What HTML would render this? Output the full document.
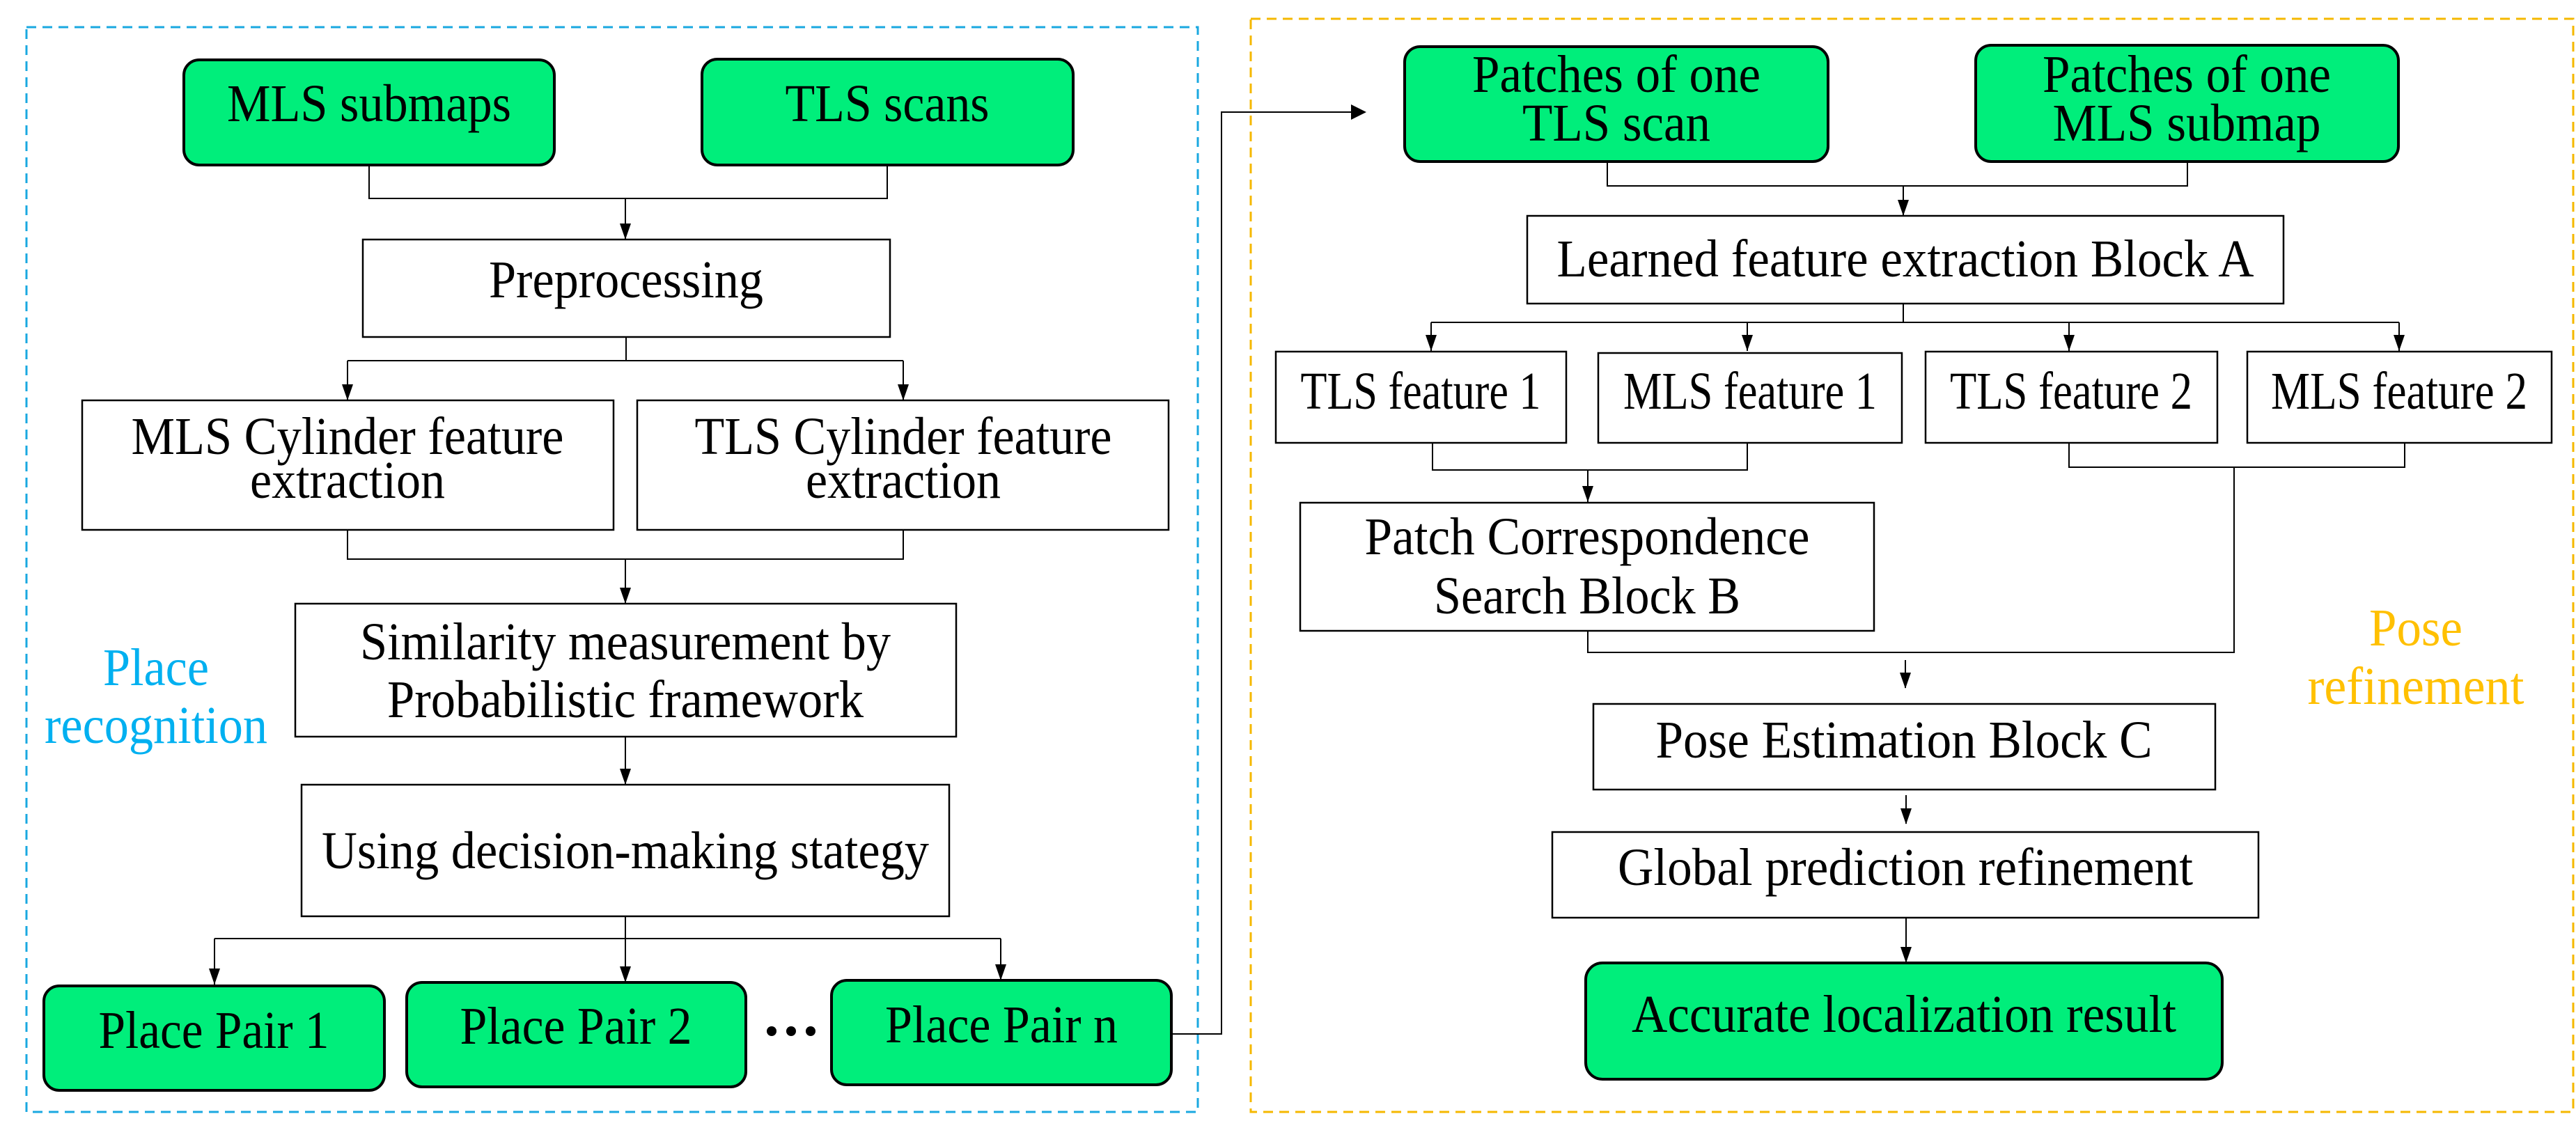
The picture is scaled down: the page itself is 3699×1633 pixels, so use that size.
<!DOCTYPE html>
<html><head><meta charset="utf-8"><style>html,body{margin:0;padding:0;background:#fff}svg{display:block}</style></head>
<body>
<svg width="3699" height="1633" viewBox="0 0 3699 1633" xmlns="http://www.w3.org/2000/svg">
<style>
text{font-family:"Liberation Serif",serif;font-size:76px;fill:#000;text-anchor:middle}
.b{fill:#fff;stroke:#000;stroke-width:2.5}
.g{fill:#00ee7b;stroke:#000;stroke-width:4}
.l{fill:none;stroke:#000;stroke-width:2}
</style>
<rect x="38" y="39" width="1682" height="1558" fill="none" stroke="#1aa8e0" stroke-width="3" stroke-dasharray="14 9"/>
<rect x="1796" y="27" width="1899" height="1570" fill="none" stroke="#f5b800" stroke-width="3" stroke-dasharray="14 9"/>

<rect class="g" x="264" y="86" width="532" height="151" rx="22"/>
<text x="530" y="174" textLength="408" lengthAdjust="spacingAndGlyphs">MLS submaps</text>
<rect class="g" x="1008" y="85" width="533" height="152" rx="22"/>
<text x="1274" y="174" textLength="293" lengthAdjust="spacingAndGlyphs">TLS scans</text>
<path class="l" d="M530,237 V285 H1274 V237 M898,285 V343" />
<path d="M890,321 L906,321 L898,344 z"/>
<rect class="b" x="521" y="344" width="757" height="140"/>
<text x="899" y="427" textLength="394" lengthAdjust="spacingAndGlyphs">Preprocessing</text>
<path class="l" d="M899,484 V518 M499,518 H1297 M499,518 V575 M1297,518 V575"/>
<path d="M491,552 L507,552 L499,575 z"/><path d="M1289,552 L1305,552 L1297,575 z"/>
<rect class="b" x="118" y="575" width="763" height="186"/>
<text x="499" y="652" textLength="621" lengthAdjust="spacingAndGlyphs">MLS Cylinder feature</text>
<text x="499" y="715" textLength="280" lengthAdjust="spacingAndGlyphs">extraction</text>
<rect class="b" x="915" y="575" width="763" height="186"/>
<text x="1297" y="652" textLength="599" lengthAdjust="spacingAndGlyphs">TLS Cylinder feature</text>
<text x="1297" y="715" textLength="280" lengthAdjust="spacingAndGlyphs">extraction</text>
<path class="l" d="M499,761 V803 H1297 V761 M898,803 V866"/>
<path d="M890,844 L906,844 L898,867 z"/>
<rect class="b" x="424" y="867" width="949" height="191"/>
<text x="898" y="947" textLength="762" lengthAdjust="spacingAndGlyphs">Similarity measurement by</text>
<text x="898" y="1030" textLength="684" lengthAdjust="spacingAndGlyphs">Probabilistic framework</text>
<path class="l" d="M898,1058 V1127"/>
<path d="M890,1104 L906,1104 L898,1127 z"/>
<rect class="b" x="433" y="1127" width="930" height="189"/>
<text x="898" y="1247" textLength="872" lengthAdjust="spacingAndGlyphs">Using decision-making stategy</text>
<path class="l" d="M898,1316 V1411 M308,1348 H1437 M308,1348 V1414 M1437,1348 V1408"/>
<path d="M300,1391 L316,1391 L308,1414 z"/><path d="M890,1388 L906,1388 L898,1411 z"/><path d="M1429,1385 L1445,1385 L1437,1408 z"/>
<rect class="g" x="63" y="1416" width="489" height="150" rx="22"/>
<text x="307" y="1505" textLength="331" lengthAdjust="spacingAndGlyphs">Place Pair 1</text>
<rect class="g" x="584" y="1411" width="487" height="150" rx="22"/>
<text x="827" y="1499" textLength="333" lengthAdjust="spacingAndGlyphs">Place Pair 2</text>
<circle cx="1108" cy="1481" r="7"/><circle cx="1136" cy="1481" r="7"/><circle cx="1164" cy="1481" r="7"/>
<rect class="g" x="1194" y="1408" width="488" height="150" rx="22"/>
<text x="1438" y="1497" textLength="334" lengthAdjust="spacingAndGlyphs">Place Pair n</text>
<text x="224" y="984" style="fill:#00b0f0" textLength="152" lengthAdjust="spacingAndGlyphs">Place</text>
<text x="224" y="1067" style="fill:#00b0f0" textLength="320" lengthAdjust="spacingAndGlyphs">recognition</text>

<path class="l" d="M1682,1485 H1754 V161 H1945"/>
<path d="M1940,150 L1962,161 L1940,172 z"/>

<rect class="g" x="2017" y="67" width="608" height="165" rx="22"/>
<text x="2321" y="132" textLength="414" lengthAdjust="spacingAndGlyphs">Patches of one</text>
<text x="2321" y="202" textLength="270" lengthAdjust="spacingAndGlyphs">TLS scan</text>
<rect class="g" x="2837" y="65" width="607" height="167" rx="22"/>
<text x="3140" y="132" textLength="414" lengthAdjust="spacingAndGlyphs">Patches of one</text>
<text x="3140" y="202" textLength="385" lengthAdjust="spacingAndGlyphs">MLS submap</text>
<path class="l" d="M2308,232 V267 H3141 V232 M2733,267 V310"/>
<path d="M2725,287 L2741,287 L2733,310 z"/>
<rect class="b" x="2193" y="310" width="1086" height="126"/>
<text x="2736" y="397" textLength="1001" lengthAdjust="spacingAndGlyphs">Learned feature extraction Block A</text>
<path class="l" d="M2733,436 V463 M2055,463 H3445 M2055,463 V504 M2509,463 V504 M2971,463 V504 M3445,463 V504"/>
<path d="M2047,481 L2063,481 L2055,504 z"/><path d="M2501,481 L2517,481 L2509,504 z"/><path d="M2963,481 L2979,481 L2971,504 z"/><path d="M3437,481 L3453,481 L3445,504 z"/>
<rect class="b" x="1832" y="505" width="417" height="131"/>
<text x="2040" y="587" textLength="345" lengthAdjust="spacingAndGlyphs">TLS feature 1</text>
<rect class="b" x="2295" y="507" width="436" height="129"/>
<text x="2513" y="587" textLength="364" lengthAdjust="spacingAndGlyphs">MLS feature 1</text>
<rect class="b" x="2765" y="505" width="419" height="131"/>
<text x="2974" y="587" textLength="348" lengthAdjust="spacingAndGlyphs">TLS feature 2</text>
<rect class="b" x="3227" y="505" width="437" height="131"/>
<text x="3445" y="587" textLength="368" lengthAdjust="spacingAndGlyphs">MLS feature 2</text>
<path class="l" d="M2057,636 V675 H2509 V636 M2280,675 V721"/>
<path d="M2272,698 L2288,698 L2280,721 z"/>
<path class="l" d="M2971,636 V671 H3453 V636 M3208,671 V937 H2280 V906"/>
<rect class="b" x="1867" y="722" width="824" height="184"/>
<text x="2279" y="796" textLength="639" lengthAdjust="spacingAndGlyphs">Patch Correspondence</text>
<text x="2279" y="881" textLength="440" lengthAdjust="spacingAndGlyphs">Search Block B</text>
<path class="l" d="M2736,948 V988"/>
<path d="M2728,966 L2744,966 L2736,989 z"/>
<rect class="b" x="2288" y="1011" width="893" height="123"/>
<text x="2734" y="1088" textLength="713" lengthAdjust="spacingAndGlyphs">Pose Estimation Block C</text>
<path class="l" d="M2737,1142 V1183"/>
<path d="M2729,1161 L2745,1161 L2737,1184 z"/>
<rect class="b" x="2229" y="1195" width="1014" height="123"/>
<text x="2736" y="1271" textLength="826" lengthAdjust="spacingAndGlyphs">Global prediction refinement</text>
<path class="l" d="M2737,1318 V1382"/>
<path d="M2729,1360 L2745,1360 L2737,1383 z"/>
<rect class="g" x="2277" y="1383" width="914" height="167" rx="24"/>
<text x="2734" y="1482" textLength="782" lengthAdjust="spacingAndGlyphs">Accurate localization result</text>
<text x="3469" y="927" style="fill:#ffc000" textLength="134" lengthAdjust="spacingAndGlyphs">Pose</text>
<text x="3469" y="1011" style="fill:#ffc000" textLength="311" lengthAdjust="spacingAndGlyphs">refinement</text>
</svg>
</body></html>
